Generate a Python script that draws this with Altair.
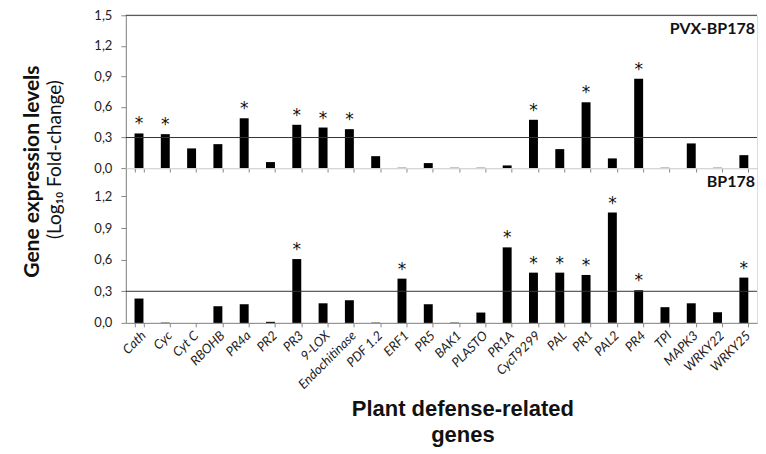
import altair as alt
import pandas as pd

genes = ["Cath", "Cyc", "Cyt C", "RBOHB", "PR4a", "PR2", "PR3", "9-LOX",
         "Endochitinase", "PDF 1.2", "ERF1", "PR5", "BAK1", "PLASTO", "PR1A",
         "CycT9299", "PAL", "PR1", "PAL2", "PR4", "TPI", "MAPK3", "WRKY22", "WRKY25"]

pvx_values = [0.34, 0.333, 0.193, 0.235, 0.489, 0.059, 0.425, 0.398,
              0.382, 0.117, 0.003, 0.049, 0.003, 0.003, 0.026,
              0.474, 0.186, 0.646, 0.095, 0.878, 0.003, 0.242, 0.003, 0.127]
pvx_sig = [1, 1, 0, 0, 1, 0, 1, 1, 1, 0, 0, 0, 0, 0, 0, 1, 0, 1, 0, 1, 0, 0, 0, 0]

bp_values = [0.231, 0.003, 0.0, 0.158, 0.177, 0.01, 0.606, 0.186,
             0.215, 0.003, 0.42, 0.177, 0.003, 0.098, 0.717,
             0.477, 0.477, 0.455, 1.048, 0.31, 0.149, 0.186, 0.101, 0.43]
bp_sig = [0, 0, 0, 0, 0, 0, 1, 0, 0, 0, 1, 0, 0, 0, 1, 1, 1, 1, 1, 1, 0, 0, 0, 1]

threshold = 0.3
top_ticks = [0.0, 0.3, 0.6, 0.9, 1.2, 1.5]
bottom_ticks = [0.0, 0.3, 0.6, 0.9, 1.2]

top_df = pd.DataFrame({"gene": genes, "value": pvx_values,
                       "sig": ["*" if s else "" for s in pvx_sig]})
bot_df = pd.DataFrame({"gene": genes, "value": bp_values,
                       "sig": ["*" if s else "" for s in bp_sig]})

W = 632
H_TOP = 153
H_BOT = 155
LABEL_FONT = "Lato"
comma = "replace(format(datum.value, '.1f'), '.', ',')"

xscale = alt.Scale(paddingInner=0.66, paddingOuter=0.33, round=False)


def panel(df, domain_max, height, label, y_axis, x_axis, top_line):
    yscale = alt.Scale(domain=[0, domain_max], nice=False)
    y = alt.Y("value:Q", scale=yscale, axis=y_axis)
    x = alt.X("gene:N", sort=genes, scale=xscale, axis=x_axis)
    base = alt.Chart(df)
    bars = base.mark_bar(color="black").encode(x=x, y=y)
    stars = base.transform_filter("datum.sig != ''").mark_text(
        font="DejaVu Sans", fontSize=17, baseline="middle", dy=-9, color="#111"
    ).encode(x=x, y=y, text="sig:N")
    lines = [threshold] + ([1.5] if top_line else [])
    rule = alt.Chart(pd.DataFrame({"value": lines})).mark_rule(
        color="#333", strokeWidth=1).encode(y=y)
    lbl = alt.Chart(pd.DataFrame({"name": [label]})).mark_text(
        font=LABEL_FONT, fontWeight="bold", fontSize=16, align="right", baseline="middle",
        color="#111"
    ).encode(x=alt.value(W - 2), y=alt.value(14), text="name:N")
    return alt.layer(bars, rule, stars, lbl).properties(width=W, height=height)


common_y = dict(labelExpr=comma, labelFont=LABEL_FONT, labelFontSize=13, labelColor="#222",
                labelOverlap=False, labelPadding=9,
                domainColor="#888", tickColor="#888", tickSize=5, grid=False,
                titleAngle=270, titleAlign="center", titleBaseline="middle",
                titleFont=LABEL_FONT, titleColor="#111")

top_y = alt.Axis(values=top_ticks, title="Gene expression levels", titleFontWeight="bold",
                 titleFontSize=21, titleX=-93, titleY=156, **common_y)
bot_y = alt.Axis(values=bottom_ticks, title="(Log\u2081\u2080 Fold-change)",
                 titleFontWeight="normal", titleFontSize=19, titleX=-71, titleY=-9, **common_y)

top_x = alt.Axis(labels=False, title=None, tickBand="extent", domainColor="#888",
                 tickColor="#888", tickSize=4, grid=False)
bot_x = alt.Axis(tickBand="extent", domainColor="#888", tickColor="#888", tickSize=4,
                 grid=False, labelAngle=-45, labelFont=LABEL_FONT, labelFontStyle="italic",
                 labelFontSize=13, labelColor="#222", labelPadding=2, labelOverlap=False,
                 title=["Plant defense-related", "genes"], titleFont="Liberation Sans",
                 titleFontSize=22, titleFontWeight="bold", titleColor="#111",
                 titleX=337, titleY=76, titleAlign="center", titleBaseline="top",
                 titleLineHeight=26)

top = panel(top_df, 1.5, H_TOP, "PVX-BP178", top_y, top_x, True)
bot = panel(bot_df, 1.47, H_BOT, "BP178", bot_y, bot_x, False)

chart = alt.vconcat(top, bot, spacing=0, bounds="flush").properties(
    padding={"left": 13, "top": 0, "right": 0, "bottom": 0}
).configure_view(stroke=None).configure(background="white")

chart.save("out.html", embed_options={"renderer": "svg", "actions": False})
